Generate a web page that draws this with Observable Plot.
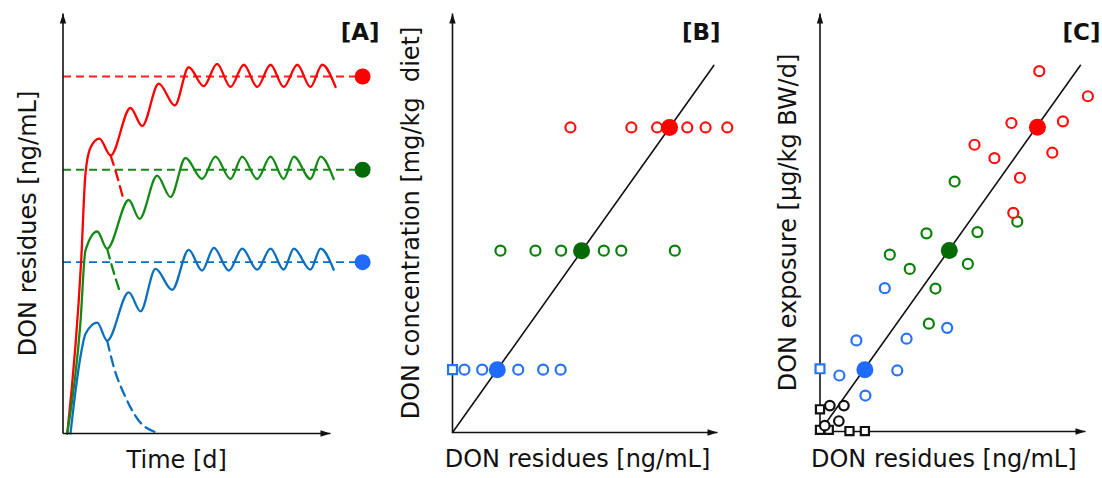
<!DOCTYPE html>
<html>
<head>
<meta charset="utf-8">
<script src="https://cdn.jsdelivr.net/npm/d3@7"></script>
<script src="https://cdn.jsdelivr.net/npm/@observablehq/plot@0.6"></script>
<style>
  html, body { margin: 0; padding: 0; background: #fff; }
  #fig { position: relative; width: 1102px; height: 478px; background: #fff; }
  #fig > svg { position: absolute; top: 0; }
</style>
</head>
<body>
<div id="fig"></div>
<script>
// ---------- Panel A: DON residues vs time (time, residue) ----------
const aRedCurve = [[1.6,0],[6.8,41.2],[8.4,61.9],[10.3,68.1],[13.6,70.2],[17.8,66.2],[25.2,77.5],[29.6,73.2],[35.8,83.3],[41.8,78.1],[47.0,87.2],[52.6,82.7],[57.6,88.0],[62.6,82.5],[67.6,87.8],[72.6,82.5],[77.6,87.8],[82.5,82.5],[87.6,87.8],[92.5,82.5],[96.9,87.8],[101.9,82.5]];
const aGreenCurve = [[1.6,0],[6.5,26.2],[8.4,43.6],[12.8,48.1],[16.5,44.0],[24.6,55.6],[28.6,51.1],[35.2,61.4],[40.2,56.3],[45.8,65.6],[52.0,60.6],[57.0,65.9],[62.6,60.6],[67.0,65.9],[72.6,60.6],[77.6,65.9],[82.5,60.6],[86.3,65.9],[92.5,60.6],[96.3,65.9],[101.2,60.6]];
const aBlueCurve = [[2.8,0],[4.7,10.2],[6.5,18.2],[8.4,23.7],[12.8,26.4],[16.5,22.1],[24.6,33.6],[29.0,29.1],[34.6,39.2],[40.8,34.2],[47.0,43.7],[52.0,38.8],[56.4,44.2],[62.0,38.8],[67.0,44.0],[72.6,39.0],[77.6,44.0],[82.5,39.0],[86.3,44.0],[92.5,39.0],[96.3,44.0],[101.2,39.0]];
const aRedDecay = [[17.8,66.2],[19.6,62.6],[22.7,55.5]];
const aGreenDecay = [[16.5,44.0],[18.4,39.6],[21.5,33.3]];
const aBlueDecay = [[16.5,22.1],[19.0,15.8],[23.4,8.6],[28.3,3.1],[34.6,0.3]];
const aSteadyLevels = [85.0, 62.8, 40.8];   // red, green, blue
const aSteadyTime = 112;

// ---------- Group means (shared by B and C) ----------
const groupColors = ["#ff0000", "#066a06", "#1f6bff"];   // high, medium, low
const openColors  = ["#ff1010", "#0a800a", "#2673f5"];
const meanResidue = [81.9, 48.7, 16.9];
const meanDiet    = [72.8, 43.4, 15.0];
const meanExposure= [72.8, 43.3, 14.8];

// ---------- Panel B: diet concentration vs residues ----------
const bHighRes = [44.5, 67.5, 77.2, 88.6, 95.5, 103.7];
const bMedRes  = [18.1, 31.3, 41.0, 57.1, 63.7, 83.9];
const bLowRes  = [4.5, 11.2, 24.8, 34.2, 40.8];
const bLowSquareRes = [0];
const bFitLine = [[0,0],[98.6,87.6]];

// ---------- Panel C: exposure vs residues ----------
const cHigh = [[82.6,86.2],[100.9,80.2],[72.1,73.8],[91.5,74.2],[58.2,68.6],[65.7,65.4],[87.5,66.7],[75.3,60.7],[72.8,52.3]];
const cMed  = [[50.7,59.8],[59.3,47.7],[40.1,47.4],[26.3,42.3],[33.8,38.9],[55.7,40.1],[43.5,34.2],[41.0,25.8],[74.3,50.2]];
const cLow  = [[24.4,34.3],[13.7,21.8],[32.6,22.2],[47.9,24.8],[29.1,14.6],[7.3,13.4],[17.1,8.6]];
const cLowSquare = [[0,15.0]];
const cCtrlSquares = [[0,5.3],[0,0.4],[3.3,0.4],[11.1,0.1],[16.9,0.1]];
const cCtrlCircles = [[3.7,6.2],[9.0,6.2],[7.1,2.5],[1.8,1.4]];
const cFitLine = [[2.1,1.9],[98.1,87.6]];

// ---------- helpers ----------
const FONT = "DejaVu Sans";
const INK = "#111";
const arrowHead = { draw(ctx) { ctx.moveTo(0, 0); ctx.lineTo(-3.2, 10); ctx.lineTo(3.2, 10); ctx.closePath(); } };

function axesMarks() {
  return [
    Plot.link([0], {x1: 0, y1: 0, x2: 0, y2: 100, stroke: INK, strokeWidth: 1.6}),
    Plot.link([0], {x1: 0, y1: 0, x2: 100, y2: 0, stroke: INK, strokeWidth: 1.6}),
    Plot.dot([0], {x: 0, y: 100, symbol: arrowHead, fill: INK, stroke: "none"}),
    Plot.dot([0], {x: 100, y: 0, symbol: arrowHead, fill: INK, stroke: "none", rotate: 90})
  ];
}
function labelMarks(yLabel, yDx, xLabel, xDx, xDy, tag, tagDx) {
  return [
    Plot.text([yLabel], {frameAnchor: "left", dx: yDx, rotate: -90, textAnchor: "middle", lineAnchor: "middle", fontSize: 24, fill: INK, fontFamily: FONT}),
    Plot.text([xLabel], {frameAnchor: "bottom", dx: xDx, dy: xDy, textAnchor: "middle", lineAnchor: "middle", fontSize: 24, fill: INK, fontFamily: FONT}),
    Plot.text([tag], {frameAnchor: "top-right", dx: tagDx, dy: 19, textAnchor: "end", lineAnchor: "middle", fontSize: 23, fontWeight: "bold", fill: INK, fontFamily: FONT})
  ];
}
function base(width, mL, mR, mT, mB, marks) {
  return Plot.plot({
    width, height: 478, marginLeft: mL, marginRight: mR, marginTop: mT, marginBottom: mB,
    x: {domain: [0, 100], axis: null},
    y: {domain: [0, 100], axis: null},
    style: {background: "transparent", overflow: "visible", fontFamily: FONT},
    marks
  });
}
const px = d => d[0], py = d => d[1];

// ---------- Panel A ----------
const curveColors = ["#ff0000", "#138a13", "#0b6fbd"];
const dashColors  = ["#ff2020", "#138a13", "#0b6fbd"];
const aCurves = [aRedCurve, aGreenCurve, aBlueCurve];
const aDecays = [aRedDecay, aGreenDecay, aBlueDecay];
const panelA = base(390, 62.5, 60, 13, 45, [
  ...aSteadyLevels.map((lv, i) => Plot.link([lv], {x1: 0, x2: aSteadyTime, y1: d => d, y2: d => d, stroke: dashColors[i], strokeWidth: 1.8, strokeDasharray: "8,5"})),
  ...aDecays.map((c, i) => Plot.line(c, {x: px, y: py, stroke: curveColors[i], strokeWidth: 2.3, strokeDasharray: "10,6", curve: "monotone-x"})),
  ...aCurves.map((c, i) => Plot.line(c, {x: px, y: py, stroke: curveColors[i], strokeWidth: 2.3, curve: "monotone-x"})),
  ...axesMarks(),
  Plot.dot(aSteadyLevels, {x: aSteadyTime, y: d => d, r: 8, fill: (d, i) => groupColors[i], stroke: "none"}),
  ...labelMarks("DON residues [ng/mL]", -34.5, "Time [d]", -20, 27, "[A]", 49)
]);

// ---------- Panel B ----------
const bRows = [bHighRes, bMedRes, bLowRes];
const panelB = base(370, 62, 43, 13, 46, [
  Plot.line(bFitLine, {x: px, y: py, stroke: INK, strokeWidth: 1.6}),
  ...axesMarks(),
  ...bRows.map((row, i) => Plot.dot(row, {x: d => d, y: meanDiet[i], r: 5, stroke: openColors[i], strokeWidth: 2.2, fill: "white"})),
  Plot.dot(bLowSquareRes, {x: d => d, y: meanDiet[2], symbol: "square", r: 5, stroke: openColors[2], strokeWidth: 2.2, fill: "white"}),
  Plot.dot(meanResidue, {x: d => d, y: (d, i) => meanDiet[i], r: 8.5, fill: (d, i) => groupColors[i], stroke: "none"}),
  ...labelMarks("DON concentration [mg/kg\u00a0 diet]", -41, "DON residues [ng/mL]", -7.5, 27, "[B]", 3)
]);

// ---------- Panel C ----------
const cGroups = [cHigh, cMed, cLow];
const panelC = base(342, 59.5, 17, 13, 47, [
  Plot.line(cFitLine, {x: px, y: py, stroke: INK, strokeWidth: 1.6}),
  ...axesMarks(),
  ...cGroups.slice().reverse().map((g, k) => { const i = 2 - k; return Plot.dot(g, {x: px, y: py, r: 5, stroke: openColors[i], strokeWidth: 2.2, fill: "white"}); }),
  Plot.dot(cLowSquare, {x: px, y: py, symbol: "square", r: 5, stroke: openColors[2], strokeWidth: 2.2, fill: "white"}),
  Plot.dot(cCtrlSquares, {x: px, y: py, symbol: "square", r: 4.6, stroke: INK, strokeWidth: 2.2, fill: "white"}),
  Plot.dot(cCtrlCircles, {x: px, y: py, r: 4.8, stroke: INK, strokeWidth: 2.2, fill: "white"}),
  Plot.dot(meanResidue, {x: d => d, y: (d, i) => meanExposure[i], r: 8.5, fill: (d, i) => groupColors[i], stroke: "none"}),
  ...labelMarks("DON exposure [µg/kg BW/d]", -31.5, "DON residues [ng/mL]", -9, 28, "[C]", 15)
]);

const fig = document.getElementById("fig");
[[panelA, 0], [panelB, 390], [panelC, 760]].forEach(([svg, left]) => {
  svg.style.left = left + "px";
  fig.appendChild(svg);
});
</script>
</body>
</html>
